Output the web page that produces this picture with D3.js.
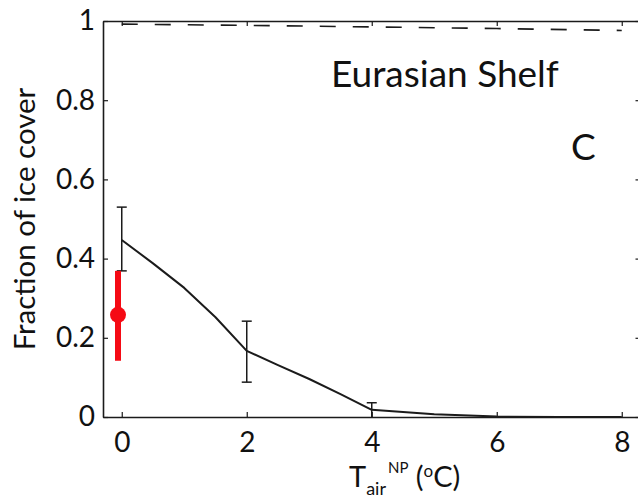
<!DOCTYPE html>
<html>
<head>
<meta charset="utf-8">
<script src="https://cdn.jsdelivr.net/npm/d3@7"></script>
<style>
  html, body { margin: 0; padding: 0; background: #fff; }
  svg { display: block; font-family: Lato, "Open Sans", sans-serif; }
</style>
</head>
<body>
<svg id="chart" width="638" height="499"></svg>
<script>
// Modelled ice-cover fraction vs. North Pole air temperature anomaly
const tempSteps   = [0, 0.5, 1, 1.5, 2, 2.5, 3, 3.5, 4, 5, 6, 7, 8];
const iceFraction = [0.447, 0.388, 0.326, 0.252, 0.167, 0.131, 0.096, 0.058, 0.018, 0.007, 0.001, 0, 0];

// Spread of the model runs at selected temperatures
const errTemps = [0, 2, 4];
const errLow   = [0.369, 0.088, 0.0];
const errHigh  = [0.530, 0.242, 0.036];

// Reference (dashed) curve near full cover
const refTemps = [0, 2, 4, 6, 8];
const refFrac  = [0.992, 0.989, 0.985, 0.981, 0.976];

// Observed value with its range
const obsTemp = [-0.06];
const obsMean = [0.258];
const obsLow  = [0.142];
const obsHigh = [0.369];

const xTicks = [0, 2, 4, 6, 8];
const xTickLabels = ["0", "2", "4", "6", "8"];
const yTicks = [0, 0.2, 0.4, 0.6, 0.8, 1];
const yTickLabels = ["0", "0.2", "0.4", "0.6", "0.8", "1"];

const svg = d3.select("#chart");
const ink = "#1b1b1b";

const x = d3.scaleLinear().domain([-0.3, 8.3]).range([103, 640.5]);
const y = d3.scaleLinear().domain([0, 1]).range([417, 21]);

// Axes (ticks pointing inward, boxed)
function styleAxis(g) {
  g.select(".domain").attr("stroke", ink).attr("stroke-width", 1.6);
  g.selectAll(".tick line").attr("stroke", ink).attr("stroke-width", 1.2);
  g.selectAll(".tick text").attr("fill", "#111").style("font-size", "28px")
    .style("font-family", "Lato, 'Open Sans', sans-serif");
}

svg.append("g")
  .attr("transform", `translate(0,${y(0)})`)
  .call(d3.axisBottom(x).tickValues(xTicks).tickFormat((d, i) => xTickLabels[i])
    .tickSizeInner(-5).tickSizeOuter(0).tickPadding(15))
  .call(styleAxis);

svg.append("g")
  .attr("transform", `translate(0,${y(1)})`)
  .call(d3.axisTop(x).tickValues(xTicks).tickFormat("")
    .tickSizeInner(-5).tickSizeOuter(0))
  .call(styleAxis);

svg.append("g")
  .attr("transform", `translate(${x(-0.3)},0)`)
  .call(d3.axisLeft(y).tickValues(yTicks).tickFormat((d, i) => yTickLabels[i])
    .tickSizeInner(-5).tickSizeOuter(0).tickPadding(8))
  .call(styleAxis);

svg.append("g")
  .attr("transform", `translate(${x(8.3)},0)`)
  .call(d3.axisRight(y).tickValues(yTicks).tickFormat("")
    .tickSizeInner(-5).tickSizeOuter(0))
  .call(styleAxis);

// Dashed reference curve
svg.append("path")
  .datum(refTemps.map((t, i) => [t, refFrac[i]]))
  .attr("fill", "none")
  .attr("stroke", ink)
  .attr("stroke-width", 1.6)
  .attr("stroke-dasharray", "16,17")
  .attr("d", d3.line().x(d => x(d[0])).y(d => y(d[1])));

// Model curve
svg.append("path")
  .datum(tempSteps.map((t, i) => [t, iceFraction[i]]))
  .attr("fill", "none")
  .attr("stroke", ink)
  .attr("stroke-width", 2)
  .attr("stroke-linejoin", "round")
  .attr("d", d3.line().x(d => x(d[0])).y(d => y(d[1])));

// Error bars
const eb = svg.append("g").attr("stroke", ink).attr("stroke-width", 1.5);
errTemps.forEach((t, i) => {
  const cx = x(t);
  eb.append("line").attr("x1", cx).attr("x2", cx).attr("y1", y(errLow[i])).attr("y2", y(errHigh[i]));
  eb.append("line").attr("x1", cx - 5).attr("x2", cx + 5).attr("y1", y(errHigh[i])).attr("y2", y(errHigh[i]));
  if (errLow[i] > 0) {
    eb.append("line").attr("x1", cx - 5).attr("x2", cx + 5).attr("y1", y(errLow[i])).attr("y2", y(errLow[i]));
  }
});

// Observation in red
obsTemp.forEach((t, i) => {
  svg.append("line")
    .attr("x1", x(t)).attr("x2", x(t))
    .attr("y1", y(obsLow[i])).attr("y2", y(obsHigh[i]))
    .attr("stroke", "#f50a14").attr("stroke-width", 6);
  svg.append("circle")
    .attr("cx", x(t)).attr("cy", y(obsMean[i])).attr("r", 8)
    .attr("fill", "#f50a14");
});

// Annotations
svg.append("text")
  .attr("x", 331).attr("y", 87)
  .style("font-size", "37px").attr("fill", "#111")
  .text("Eurasian Shelf");

svg.append("text")
  .attr("x", 571).attr("y", 160)
  .style("font-size", "37px").attr("fill", "#111")
  .text("C");

// Axis titles
svg.append("text")
  .attr("transform", `translate(35,${(y(0) + y(1)) / 2}) rotate(-90)`)
  .attr("text-anchor", "middle")
  .style("font-size", "29.5px").attr("fill", "#111")
  .text("Fraction of ice cover");

const xl = svg.append("text")
  .attr("x", 349).attr("y", 487)
  .attr("fill", "#111")
  .style("font-size", "29px");
xl.append("tspan").text("T");
xl.append("tspan").attr("dy", 8).style("font-size", "18px").text("air");
xl.append("tspan").attr("dy", -22).attr("dx", 2).style("font-size", "15px").text("NP");
xl.append("tspan").attr("dy", 14).text(" (");
xl.append("tspan").attr("dy", -10).style("font-size", "17px").text("o");
xl.append("tspan").attr("dy", 10).text("C)");
</script>
</body>
</html>
